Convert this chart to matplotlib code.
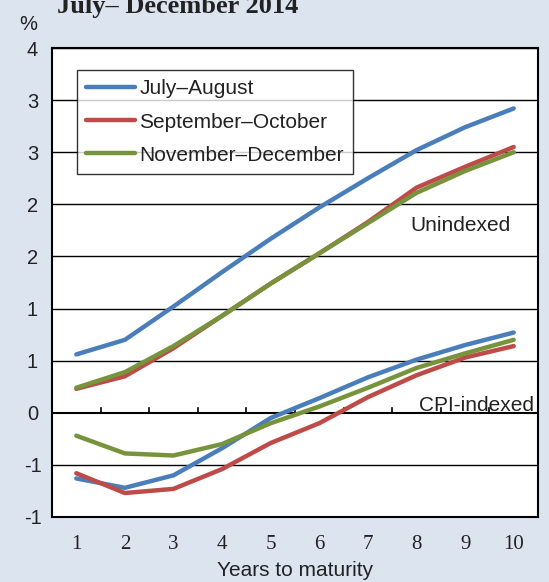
import matplotlib
matplotlib.use('Agg')
import matplotlib.pyplot as plt
import numpy as np

# Data (% yields by years to maturity)
years = np.arange(1, 11)

unindexed_jul_aug = [0.56, 0.70, 1.02, 1.35, 1.67, 1.97, 2.25, 2.52, 2.74, 2.92]
unindexed_sep_oct = [0.23, 0.35, 0.62, 0.93, 1.24, 1.53, 1.83, 2.16, 2.36, 2.55]
unindexed_nov_dec = [0.24, 0.39, 0.64, 0.93, 1.24, 1.53, 1.82, 2.11, 2.32, 2.50]

cpi_jul_aug = [-0.63, -0.72, -0.60, -0.34, -0.05, 0.14, 0.34, 0.51, 0.65, 0.77]
cpi_sep_oct = [-0.58, -0.77, -0.73, -0.54, -0.29, -0.10, 0.15, 0.36, 0.53, 0.64]
cpi_nov_dec = [-0.22, -0.39, -0.41, -0.30, -0.10, 0.06, 0.24, 0.43, 0.57, 0.70]

series_names = ["July\u2013August", "September\u2013October", "November\u2013December"]
colors = ["#4a7ebb", "#be4b48", "#77933c"]

# y ticks every 0.5, labelled with whole numbers as in the source
y_ticks = [-1, -0.5, 0, 0.5, 1, 1.5, 2, 2.5, 3, 3.5]
y_tick_labels = ["-1", "-1", "0", "1", "1", "2", "2", "3", "3", "4"]

bg = "#dce4f0"
txt = "#222222"
sans = "Liberation Sans"
W, H = 549, 582
fig = plt.figure(figsize=(W / 100, H / 100), dpi=100, facecolor=bg)
ax = fig.add_axes([52 / W, 1 - 517 / H, (538 - 52) / W, (517 - 48) / H])
ax.set_facecolor("white")

for yv in y_ticks:
    ax.axhline(yv, color="black", lw=1.0 if yv != 0 else 1.5, zorder=1)

unindexed = [unindexed_jul_aug, unindexed_sep_oct, unindexed_nov_dec]
cpi = [cpi_jul_aug, cpi_sep_oct, cpi_nov_dec]
for name, col, u in zip(series_names, colors, unindexed):
    ax.plot(years, u, color=col, lw=3.2, label=name, solid_capstyle="round", zorder=3)
for col, c in zip(colors, cpi):
    ax.plot(years, c, color=col, lw=3.2, solid_capstyle="round", zorder=3)

# small category-boundary ticks sitting on the zero line
for xb in years[:-1] + 0.5:
    ax.plot([xb, xb], [0, 0.05], color="black", lw=1.2, zorder=2)

ax.set_xlim(0.5, 10.5)
ax.set_ylim(-1, 3.5)
ax.set_yticks(y_ticks)
ax.set_yticklabels(y_tick_labels, fontsize=14.5, family=sans)
ax.set_xticks(years)
ax.set_xticklabels([str(y) for y in years], fontsize=15, family="Liberation Serif")
ax.tick_params(axis="both", length=0, colors=txt)
ax.tick_params(axis="x", pad=13)
ax.tick_params(axis="y", pad=14)
for lab in ax.get_yticklabels():
    lab.set_horizontalalignment("center")

for s in ax.spines.values():
    s.set_color("black")
    s.set_linewidth(1.5)

ax.set_xlabel("Years to maturity", fontsize=15, family=sans, color=txt, labelpad=5)

leg = ax.legend(loc="upper left", bbox_to_anchor=(25 / 486, 1 - 22 / 469),
                prop={"family": sans, "size": 15},
                frameon=True, fancybox=False, edgecolor="black",
                handlelength=2.35, handletextpad=0.2, labelspacing=0.68,
                borderpad=0.45, borderaxespad=0)
leg.get_frame().set_linewidth(1.0)
leg.set_zorder(5)
for t in leg.get_texts():
    t.set_color(txt)

ax.text(8.9, 1.80, "Unindexed", fontsize=15, family=sans,
        ha="center", va="center", color=txt)
ax.text(10.42, 0.015, "CPI-indexed", fontsize=15, family=sans,
        ha="right", va="baseline", color=txt)

fig.text(28 / W, 1 - 24 / H, "%", fontsize=14.5, family=sans,
         ha="center", va="center", color=txt)
# title runs off the top edge, as in the source image
fig.text(57 / W, 1 - 13 / H, "July\u2013 December 2014", fontsize=19,
         family="Liberation Serif", weight="bold", ha="left", va="baseline",
         color=txt)

fig.savefig("out.png", dpi=100, facecolor=bg)
